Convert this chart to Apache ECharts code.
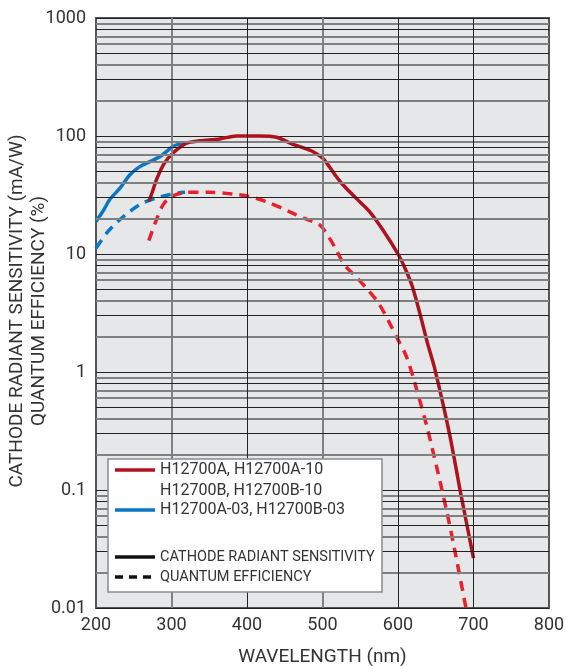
<!DOCTYPE html>
<html>
<head>
<meta charset="utf-8">
<script src="https://cdn.jsdelivr.net/npm/echarts@6/dist/echarts.min.js"></script>
<style>
  html, body { margin: 0; padding: 0; background: #fff; }
  #chart { width: 566px; height: 666px; }
</style>
</head>
<body>
<div id="chart"></div>
<script>
// wavelength (nm) / value pairs
var redSensNm = [270, 275, 280, 290, 302, 320, 337, 364, 386, 417, 439, 461, 473, 487, 500, 509, 518, 527, 544, 562, 580, 600, 610, 619, 630, 639, 648, 668, 683, 700];
var redSens = [27.9, 34, 42.5, 58, 71.8, 87, 91, 94.5, 100, 100, 97.5, 85, 80, 74, 65, 55, 45.6, 38.6, 29.9, 23, 16, 10, 7.4, 5.3, 2.96, 1.76, 1.11, 0.304, 0.094, 0.0265];

var redQeNm = [270, 280, 289, 300, 320, 351, 381, 403, 425, 456, 476, 496, 509, 518, 529, 544, 558, 571, 582, 591, 600, 611, 621, 637, 652, 665, 676, 690];
var redQe = [13, 19.5, 26.2, 30.7, 33.3, 33.3, 32.2, 30.7, 27.9, 22.9, 20, 17.7, 13.7, 10.9, 8.1, 6.45, 5.15, 4.1, 3.16, 2.44, 1.88, 1.36, 0.86, 0.37, 0.149, 0.064, 0.029, 0.01];

var blueSensNm = [200, 210, 218, 232, 245, 258, 272, 285, 302, 315];
var blueSens = [18.9, 23.5, 28.8, 36.3, 47, 55, 61, 67, 81.6, 87];

var blueQeNm = [200, 214, 229, 245, 262, 280, 298, 309, 318];
var blueQe = [11.2, 15, 18.9, 23, 27, 29.9, 31.9, 32.9, 33.3];

var xTicks = [200, 300, 400, 500, 600, 700, 800];
var yTickLabels = ['0.01', '0.1', '1', '10', '100', '1000'];

// minor grid lines: which ones are gray and which ones are black
var decades = [0.01, 0.1, 1, 10, 100];
var grayMult = [2, 4, 6, 7, 9];
var blackMult = [3, 5, 8];
var grayNm = [300, 500];
var blackNm = [400, 600, 700];

var legendItems = [
  { text: 'H12700A, H12700A-10', color: '#b0111e', dash: null, y: 470, size: 16 },
  { text: 'H12700B, H12700B-10', color: null, dash: null, y: 491, size: 16 },
  { text: 'H12700A-03, H12700B-03', color: '#0a77c4', dash: null, y: 510, size: 16 },
  { text: 'CATHODE RADIANT SENSITIVITY', color: '#111', dash: null, y: 557, size: 14.5 },
  { text: 'QUANTUM EFFICIENCY', color: '#111', dash: [8, 6], y: 577, size: 14.5 }
];

function pairs(xs, ys) {
  return xs.map(function (x, i) { return [x, ys[i]]; });
}

function minorLines(mults) {
  var out = [];
  decades.forEach(function (d) {
    mults.forEach(function (m) { out.push({ yAxis: d * m }); });
  });
  return out;
}

var chart = echarts.init(document.getElementById('chart'));

var graphics = [{
  // y axis title, two lines
  type: 'text',
  x: 28, y: 311,
  rotation: Math.PI / 2,
  style: {
    text: 'CATHODE RADIANT SENSITIVITY (mA/W)\nQUANTUM EFFICIENCY (%)',
    fill: '#333', font: '19px Roboto', lineHeight: 22,
    align: 'center', verticalAlign: 'middle'
  }
}, {
  type: 'rect',
  shape: { x: 108, y: 459, width: 274, height: 133 },
  style: { fill: '#fff', stroke: '#8a8a8a', lineWidth: 1.5 },
  z: 100
}];
legendItems.forEach(function (it) {
  if (it.color) {
    graphics.push({
      type: 'line',
      shape: { x1: 115, y1: it.y, x2: 155, y2: it.y },
      style: { stroke: it.color, lineWidth: 3.5, lineDash: it.dash },
      z: 101
    });
  }
  graphics.push({
    type: 'text',
    x: 160, y: it.y,
    style: { text: it.text, fill: '#333', font: it.size + 'px Roboto', verticalAlign: 'middle' },
    z: 101
  });
});

var option = {
  animation: false,
  backgroundColor: '#fff',
  textStyle: { fontFamily: 'Roboto' },
  grid: {
    left: 96, right: 17, top: 18, bottom: 58,
    containLabel: false,
    outerBoundsMode: 'none',
    show: true,
    backgroundColor: '#e6e7e9',
    borderColor: '#555',
    borderWidth: 2
  },
  xAxis: {
    type: 'value',
    min: 200, max: 800, interval: 100,
    name: 'WAVELENGTH (nm)',
    nameLocation: 'middle',
    nameGap: 40,
    nameTextStyle: { fontSize: 19, color: '#333', fontFamily: 'Roboto' },
    axisLine: { show: false },
    axisTick: { show: false },
    axisLabel: {
      fontSize: 18, color: '#333', margin: 8,
      formatter: function (v) { return xTicks.indexOf(v) >= 0 ? String(v) : ''; }
    },
    splitLine: { show: false }
  },
  yAxis: {
    type: 'log',
    logBase: 10,
    min: 0.01, max: 1000,
    axisLine: { show: false },
    axisTick: { show: false },
    axisLabel: {
      fontSize: 18, color: '#333', margin: 10,
      formatter: function (v) { return yTickLabels[Math.round(Math.log10(v)) + 2]; }
    },
    splitLine: { show: true, lineStyle: { color: '#222', width: 1 } }
  },
  graphic: graphics,
  series: [
    {
      // grid helper: minor lines
      type: 'line', data: [], z: 1, silent: true,
      markLine: {
        silent: true, symbol: 'none', label: { show: false },
        lineStyle: { color: '#808080', width: 2, type: 'solid' },
        data: minorLines(grayMult).concat(grayNm.map(function (v) { return { xAxis: v }; }))
      }
    },
    {
      type: 'line', data: [], z: 1, silent: true,
      markLine: {
        silent: true, symbol: 'none', label: { show: false },
        lineStyle: { color: '#222', width: 1, type: 'solid' },
        data: minorLines(blackMult).concat(blackNm.map(function (v) { return { xAxis: v }; }))
      }
    },
    {
      name: 'H12700A-03 QE', type: 'line', z: 3, smooth: 0.3, showSymbol: false,
      data: pairs(blueQeNm, blueQe),
      lineStyle: { color: '#0a77c4', width: 3.5, type: [10, 7] }
    },
    {
      name: 'H12700A-03', type: 'line', z: 3, smooth: 0.3, showSymbol: false,
      data: pairs(blueSensNm, blueSens),
      lineStyle: { color: '#0a77c4', width: 3.5 }
    },
    {
      name: 'H12700A QE', type: 'line', z: 4, smooth: 0.3, showSymbol: false,
      data: pairs(redQeNm, redQe),
      lineStyle: { color: '#e8202e', width: 3.5, type: [10, 7] }
    },
    {
      name: 'H12700A', type: 'line', z: 4, smooth: 0.3, showSymbol: false,
      data: pairs(redSensNm, redSens),
      lineStyle: { color: '#b0111e', width: 3.5 }
    }
  ]
};

chart.setOption(option);
</script>
</body>
</html>
